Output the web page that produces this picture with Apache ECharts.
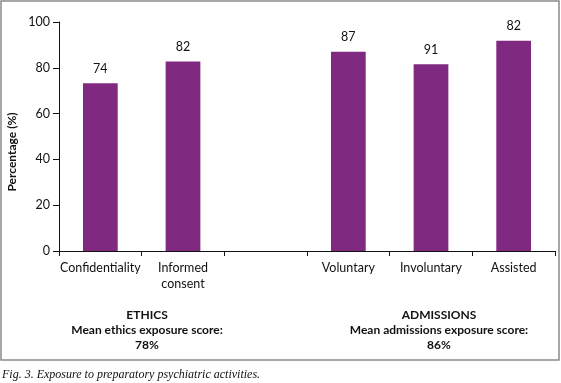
<!DOCTYPE html>
<html lang="en">
<head>
  <meta charset="UTF-8">
  <title>Exposure to preparatory psychiatric activities</title>
  <style>
    html, body { margin: 0; padding: 0; background: #fff; }
    #chart1 { width: 561px; height: 383px; }
  </style>
</head>
<body>
  <div id="chart1"></div>
  <script src="https://cdn.jsdelivr.net/npm/echarts@6/dist/echarts.min.js"></script>
  <script>
    // categories (the empty one is the gap between the two groups)
    var categories = ['Confidentiality', 'Informed\nconsent', '', 'Voluntary', 'Involuntary', 'Assisted']
    // bar heights as drawn
    var values = [73.3, 82.7, null, 87, 81.5, 91.8]
    // labels printed above the bars (as in the figure)
    var barLabels = ['74', '82', '', '87', '91', '82']
    var yTicks = [0, 20, 40, 60, 80, 100]

    var fontSans = 'Lato, "Liberation Sans", sans-serif'
    var txt = '#111'

    var myChart = echarts.init(document.getElementById('chart1'))
    var option = {
      animation: false,
      grid: { left: 59, right: 6, top: 22, bottom: 132 },
      xAxis: {
        type: 'category',
        data: categories,
        axisLine: { lineStyle: { color: '#111', width: 1 } },
        axisTick: { show: true, length: 5, lineStyle: { color: '#111' } },
        axisLabel: { color: txt, fontSize: 12.5, fontFamily: fontSans, margin: 9, lineHeight: 16, interval: 0 }
      },
      yAxis: {
        type: 'value',
        min: yTicks[0],
        max: yTicks[yTicks.length - 1],
        interval: 20,
        axisLine: { show: true, lineStyle: { color: '#111', width: 1 } },
        axisTick: { show: true, length: 6, lineStyle: { color: '#111' } },
        axisLabel: { color: txt, fontSize: 12.5, fontFamily: fontSans, margin: 9 },
        splitLine: { show: false }
      },
      series: [{
        type: 'bar',
        data: values,
        barWidth: '42%',
        itemStyle: { color: '#7f2a80' },
        label: {
          show: true,
          position: 'top',
          distance: 8,
          color: txt,
          fontSize: 12.5,
          fontFamily: fontSans,
          formatter: function (p) { return barLabels[p.dataIndex] }
        }
      }],
      graphic: [
        {
          type: 'rect',
          shape: { x: 1, y: 1, width: 558, height: 359 },
          style: { fill: 'none', stroke: '#8a8a8a', lineWidth: 1.5 },
          z: -1
        },
        {
          type: 'text',
          x: 12, y: 152, rotation: Math.PI / 2,
          style: { text: 'Percentage (%)', fill: txt, font: 'bold 12px ' + fontSans, textAlign: 'center', textVerticalAlign: 'middle' }
        },
        {
          type: 'text',
          x: 147, y: 308,
          style: { text: 'ETHICS\nMean ethics exposure score:\n78%', fill: txt, font: 'bold 12px ' + fontSans, lineHeight: 15, textAlign: 'center' }
        },
        {
          type: 'text',
          x: 439, y: 308,
          style: { text: 'ADMISSIONS\nMean admissions exposure score:\n86%', fill: txt, font: 'bold 12px ' + fontSans, lineHeight: 15, textAlign: 'center' }
        },
        {
          type: 'text',
          x: 2, y: 369,
          style: { text: 'Fig. 3. Exposure to preparatory psychiatric activities.', fill: txt, font: 'italic 12px "Liberation Serif", serif' }
        }
      ]
    }
    myChart.setOption(option)
  </script>
</body>
</html>
